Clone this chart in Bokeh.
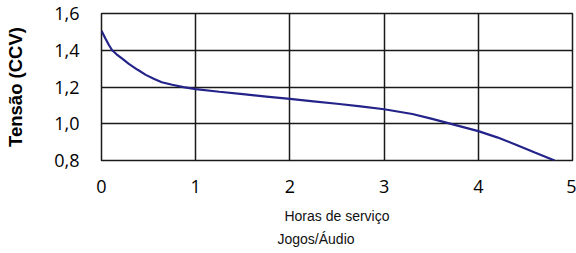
from bokeh.plotting import figure
from bokeh.models import Range1d, FixedTicker, Title
from bokeh.embed import file_html
from bokeh.resources import INLINE

# Data
hours = [0.0, 0.04, 0.08, 0.113, 0.16, 0.22, 0.29, 0.38, 0.47, 0.56, 0.64, 0.75, 0.87, 1.0,
         1.25, 1.5, 1.75, 2.0, 2.25, 2.5, 2.75, 3.0, 3.3, 3.5, 3.67, 4.0, 4.2, 4.4, 4.6, 4.81]
voltage = [1.506, 1.465, 1.427, 1.40, 1.378, 1.354, 1.326, 1.295, 1.266, 1.243, 1.226, 1.212,
           1.199, 1.188, 1.174, 1.161, 1.148, 1.135, 1.122, 1.109, 1.095, 1.079, 1.053, 1.028,
           1.005, 0.96, 0.926, 0.886, 0.843, 0.80]
x_ticks = [0, 1, 2, 3, 4, 5]
y_ticks = [0.8, 1.0, 1.2, 1.4, 1.6]
y_tick_labels = ["0,8", "1,0", "1,2", "1,4", "1,6"]
x_title = "Horas de serviço"
x_subtitle = "Jogos/Áudio"
y_title = "Tensão (CCV)"

W, H = 576, 253
p = figure(width=W, height=H, output_backend="svg", toolbar_location=None,
           x_range=Range1d(0, 5), y_range=Range1d(0.8, 1.6),
           min_border_left=101, min_border_right=4, min_border_top=13, min_border_bottom=93)
p.background_fill_color = "white"
p.border_fill_color = "white"
p.outline_line_color = "#1a1a1a"
p.outline_line_width = 1.5

p.line(hours, voltage, line_color="#23238a", line_width=2.2)

tick_font = "Open Sans"
for ax in (p.xaxis, p.yaxis):
    ax.axis_line_color = None
    ax.major_tick_line_color = None
    ax.minor_tick_line_color = None
    ax.major_label_text_font = tick_font
    ax.major_label_text_font_size = "18px"
    ax.major_label_text_color = "black"

p.xaxis.ticker = FixedTicker(ticks=x_ticks)
p.yaxis.ticker = FixedTicker(ticks=y_ticks)
p.yaxis.major_label_overrides = {t: l for t, l in zip(y_ticks, y_tick_labels)}
p.xaxis.major_label_standoff = 13
p.yaxis.major_label_standoff = 16

p.xaxis.axis_label = x_title
p.xaxis.axis_label_text_font = "Liberation Sans"
p.xaxis.axis_label_text_font_style = "normal"
p.xaxis.axis_label_text_font_size = "14px"
p.xaxis.axis_label_text_color = "#111111"
p.xaxis.axis_label_standoff = 12

p.yaxis.axis_label = y_title
p.yaxis.axis_label_text_font = "Liberation Sans"
p.yaxis.axis_label_text_font_style = "bold"
p.yaxis.axis_label_text_font_size = "18.5px"
p.yaxis.axis_label_text_color = "black"
p.yaxis.axis_label_standoff = 25
p.yaxis.axis_label_align = "center"

p.xgrid.ticker = FixedTicker(ticks=x_ticks)
p.ygrid.ticker = FixedTicker(ticks=y_ticks)
for g in (p.xgrid, p.ygrid):
    g.grid_line_color = "#1a1a1a"
    g.grid_line_width = 1.5

p.add_layout(Title(text=x_subtitle, align="left", offset=176, standoff=4,
                   text_font="Liberation Sans", text_font_size="14px",
                   text_font_style="normal", text_color="#111111"), "below")

open("out.html", "w").write(file_html(p, INLINE))
